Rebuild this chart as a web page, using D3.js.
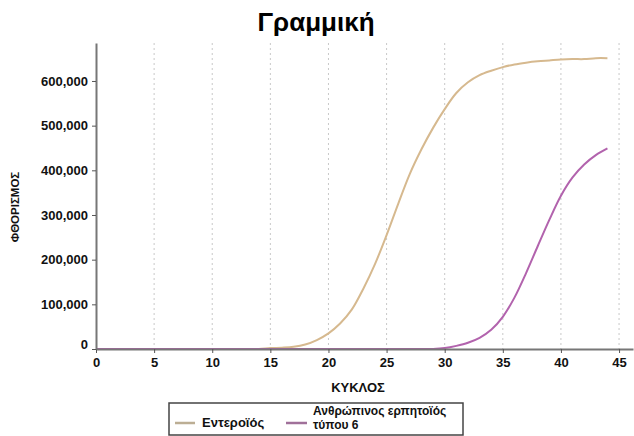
<!DOCTYPE html>
<html><head><meta charset="utf-8">
<script src="https://cdn.jsdelivr.net/npm/d3@7"></script>
<style>body{margin:0;background:#fff}svg{display:block}text{font-family:"Liberation Sans",Arial,sans-serif;font-weight:bold}</style>
</head><body><svg id="c" width="634" height="436"></svg>
<script>
const cycles = d3.range(0, 45);
const seriesNames = ["Εντεροϊός", "Ανθρώπινος ερπητοϊός τύπου 6"];
const enterovirus = [0,0,0,0,0,0,0,0,0,0,0,0,0,0,0,2000,3000,5000,10000,20000,35000,57000,88000,135000,190000,255000,325000,392000,447000,495000,537000,573000,597000,613000,623000,631000,637000,641000,644000,646000,648000,649000,649000,651000,651000];
const hhv6 = [0,0,0,0,0,0,0,0,0,0,0,0,0,0,0,0,0,0,0,0,0,0,0,0,0,0,0,0,0,0,2000,7000,14000,25000,43000,72000,115000,170000,230000,289000,343000,384000,413000,434000,449000];
const xTicks = [0,5,10,15,20,25,30,35,40,45];
const yTicks = [0,100000,200000,300000,400000,500000,600000];
const colors = ["#d6b98f", "#b263ad"];
const legendColors = ["#bcae94", "#a0709a"];

const svg = d3.select("#c");
const x = d3.scaleLinear().domain([0, 46.2]).range([96, 633]);
const y = d3.scaleLinear().domain([0, 685000]).range([349, 43]);

svg.append("text").attr("x", 316).attr("y", 31).attr("text-anchor", "middle")
  .style("font-size", "26px").text("Γραμμική");

// grid
svg.append("g").selectAll("line").data(xTicks.filter(d => d > 0)).join("line")
  .attr("x1", d => x(d)).attr("x2", d => x(d)).attr("y1", 43).attr("y2", 349)
  .attr("stroke", "#c8c8c8").attr("stroke-width", 1).attr("stroke-dasharray", "2,3");

// lines
const line = d3.line().x((d, i) => x(cycles[i])).y(d => y(d)).curve(d3.curveCatmullRom.alpha(0.5));
[enterovirus, hhv6].forEach((s, k) => {
  svg.append("path").attr("d", line(s)).attr("fill", "none")
    .attr("stroke", colors[k]).attr("stroke-width", 2);
});

// x axis
const xa = svg.append("g").attr("transform", "translate(0,349)")
  .call(d3.axisBottom(x).tickValues(xTicks).tickSize(4).tickSizeOuter(0));
xa.select(".domain").attr("stroke", "#777").attr("stroke-width", 2);
xa.selectAll(".tick line").attr("stroke", "#555");
xa.selectAll("text").style("font-size", "13px").attr("fill", "#111").attr("dy", "0.85em");

// y axis
const ya = svg.append("g").attr("transform", "translate(96,0)")
  .call(d3.axisLeft(y).tickValues(yTicks).tickFormat(d3.format(",")).tickSize(4).tickSizeOuter(0));
ya.select(".domain").attr("stroke", "#777").attr("stroke-width", 2);
ya.selectAll(".tick line").attr("stroke", "#555");
ya.selectAll("text").style("font-size", "13px").attr("fill", "#111").attr("x", -8)
  .attr("dy", d => d === 0 ? "-0.05em" : "0.32em");

svg.append("text").attr("x", 358).attr("y", 392).attr("text-anchor", "middle")
  .style("font-size", "13px").attr("fill", "#111").text("ΚΥΚΛΟΣ");
svg.append("text").attr("transform", "translate(19,207) rotate(-90)").attr("text-anchor", "middle")
  .style("font-size", "11.5px").attr("fill", "#111").text("ΦΘΟΡΙΣΜΟΣ");

// legend
const lg = svg.append("g");
lg.append("rect").attr("x", 169).attr("y", 403).attr("width", 294).attr("height", 32)
  .attr("fill", "#fff").attr("stroke", "#444").attr("stroke-width", 1.5);
lg.append("line").attr("x1", 175).attr("x2", 195).attr("y1", 423).attr("y2", 423)
  .attr("stroke", legendColors[0]).attr("stroke-width", 2.5);
lg.append("text").attr("x", 202).attr("y", 427).style("font-size", "13px").attr("fill", "#111").text(seriesNames[0]);
lg.append("line").attr("x1", 286).attr("x2", 307).attr("y1", 423).attr("y2", 423)
  .attr("stroke", legendColors[1]).attr("stroke-width", 2.5);
const t2 = lg.append("text").attr("x", 313).attr("y", 415).style("font-size", "12px").attr("fill", "#111");
t2.append("tspan").attr("x", 313).text("Ανθρώπινος ερπητοϊός");
t2.append("tspan").attr("x", 313).attr("dy", 14).text("τύπου 6");
</script></body></html>
